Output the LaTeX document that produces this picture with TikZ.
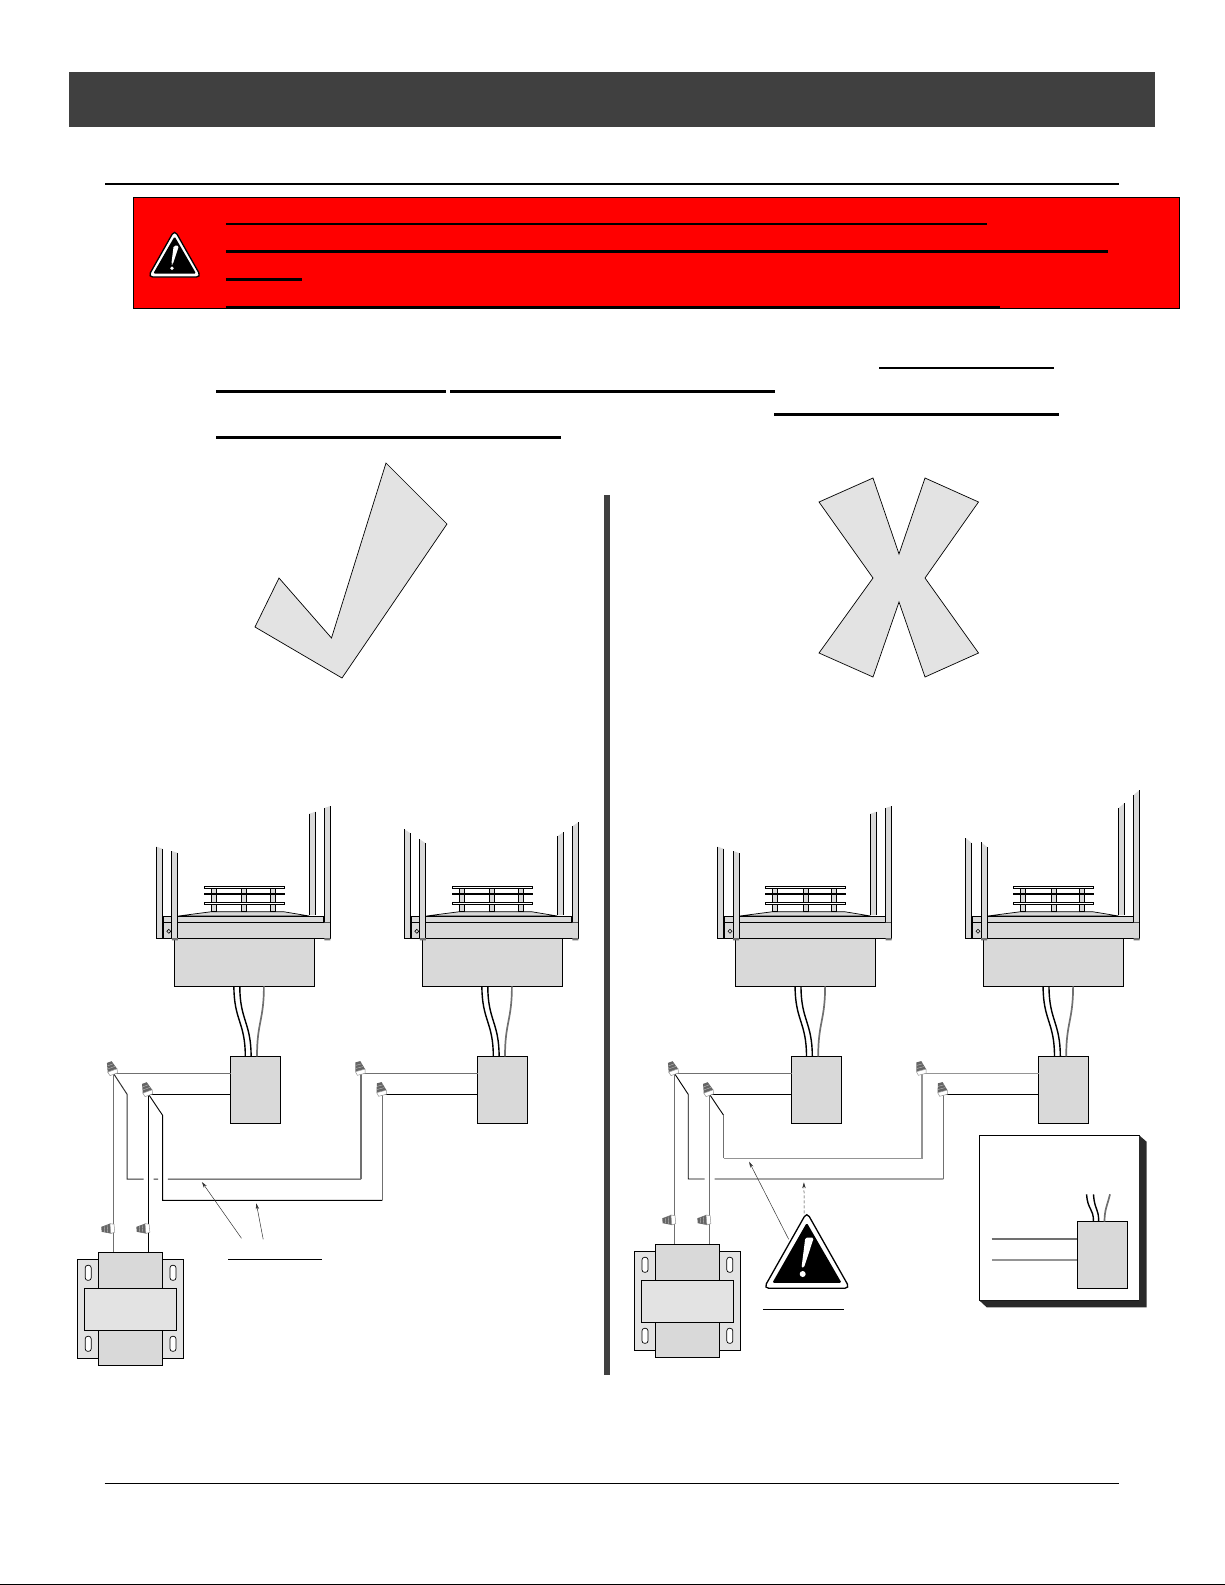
\documentclass[tikz,border=0pt]{standalone}
\usetikzlibrary{arrows.meta}
\definecolor{bargray}{HTML}{404040}
\definecolor{stovegray}{HTML}{D9D9D9}
\definecolor{marklight}{HTML}{E3E3E3}
\definecolor{wiregray}{HTML}{707070}
\definecolor{wirepale}{HTML}{949494}
\definecolor{wiredark}{HTML}{333333}
\tikzset{
    ruleline/.style={line width=3pt},
    thinrule/.style={line width=2pt},
    bigmark/.style={draw,fill=marklight,line width=0.7pt},
    part/.style={draw,fill=stovegray,line width=1pt},
    platepart/.style={draw,fill=marklight,line width=1pt},
    block/.style={part,inner sep=0pt,outer sep=0pt,anchor=north west},
    wireblk/.style={line width=0.9pt,black},
    wiregr/.style={line width=1.2pt,wiregray},
    wirepl/.style={line width=1.2pt,wirepale},
    wiredk/.style={line width=1pt,wiredark},
    leader/.style={line width=0.5pt,wiredark,-{Stealth[length=6pt,width=3.4pt]}},
    pics/wirenut/.style={code={
        \fill[wiregray!90!black] (-5,-3) -- (5,-3) -- (2.5,-12) -- (-2.5,-12) -- cycle;
        \draw[wirepale!60!white,line width=0.4pt] (-3.8,-6) -- (3.8,-6) (-3,-9) -- (3,-9);
        \draw[wirepale,fill=white,line width=0.5pt] (-5,-3) -- (5,-3) -- (4,1) -- (-4,1) -- cycle;
    }},
    pics/warnsign/.style={code={
        \draw[fill=white,line width=1.3pt,rounded corners=5pt] (0,-75.5) -- (-43,0.6) -- (43,0.6) -- cycle;
        \fill[black,rounded corners=1.5pt] (0,-65) -- (-34.5,-4.8) -- (34.8,-4.8) -- cycle;
        \fill[white,rounded corners=1.5pt] (-1.5,-50) -- (7,-50) -- (-2.9,-20) -- (-5.3,-20) -- cycle;
        \fill[white] (-4.1,-13.7) circle (3);
    }}
}
\newcommand{\stovehead}[8]{
    \begin{scope}[shift={(#2,0)}]
        \fill[stovegray] (153,#5) -- (159,#5-#7) -- (159,915) -- (153,915) -- cycle;
        \draw[line width=1pt] (153,#5) -- (153,915) (159,#5-#7) -- (159,915);
        \draw[part,line width=0.7pt] (22,916) -- (55,911.7) -- (127,911.7) -- (153,916) -- cycle;
        \foreach \legx in {54.8,85.4,114}
            \draw[part] (\legx,888) rectangle (\legx+5,911.7);
        \draw[fill=white,line width=1pt] (47.6,886.7) rectangle (128.1,888.9);
        \draw[line width=1.5pt] (47.6,894) -- (128.1,894);
        \draw[fill=white,line width=1pt] (47.6,902.3) rectangle (128.1,904.7);
        \node[block,minimum width=174pt,minimum height=16pt] (#1base) at (0,922.3) {};
        \draw[part] (6.9,916) rectangle (167.4,922.3);
        \draw[line width=1.6pt] (6.4,916) -- (6.4,938.3);
        \fill[stovegray] (0,#3) -- (6.2,#3+#7) -- (6.2,938.3) -- (0,938.3) -- cycle;
        \draw[line width=1pt] (0,#3) -- (0,938.3) -- (6.2,938.3) -- (6.2,#3+#7);
        \fill[stovegray] (15.4,#4) -- (21.4,#4+#7) -- (21.4,938.3) -- (15.4,938.3) -- cycle;
        \draw[line width=1pt] (15.4,#4) -- (15.4,938.3) (21.4,#4+#7) -- (21.4,938.3);
        \fill[stovegray] (168,#6) -- (174,#6-#7) -- (174,922.3) -- (168,922.3) -- cycle;
        \draw[line width=1pt] (168,#6) -- (168,922.3) (174,#6-#7) -- (174,938);
        \draw[line width=0.6pt] (12.4,929.3) -- (14.4,931.3) -- (12.4,933.3) -- (10.4,931.3) -- cycle;
        \node[block,minimum width=140pt,minimum height=48pt] (#1box) at (17.9,938.3) {};
        \fill[wiregray] (15.4,938) rectangle (21.4,940.3) (168,938) rectangle (174,940.3);
        \node[block,minimum width=49.5pt,minimum height=67pt] (#1jb) at (#8,1056.3) {};
        \coordinate (#1ua) at (77.5,986.3);
        \coordinate (#1ub) at (83.4,986.3);
        \coordinate (#1uc) at (107.5,986.3);
        \coordinate (#1da) at (88.9,1056.3);
        \coordinate (#1db) at (94.7,1056.3);
        \coordinate (#1dc) at (100.6,1056.3);
        \draw[wireblk,line width=1.4pt] (#1ua) .. controls +(0,34) and +(0,-34) .. (#1da);
        \draw[wireblk,line width=1.4pt] (#1ub) .. controls +(0,34) and +(0,-34) .. (#1db);
        \draw[wiregr,line width=1.7pt] (#1uc) .. controls +(0,34) and +(0,-34) .. (#1dc);
    \end{scope}
}
\newcommand{\coiltrans}[3]{
    \begin{scope}[shift={(#2,#3)}]
        \node[block,platepart,minimum width=106.5pt,minimum height=99pt] (#1plate) at (0,0) {};
        \node[block,minimum width=64pt,minimum height=113pt] (#1core) at (21,-7) {};
        \node[block,platepart,minimum width=92pt,minimum height=42pt] (#1mid) at (7.2,29) {};
        \draw[line width=0.7pt,fill=white,rounded corners=2.5pt] (8,6) rectangle (14,21) (92.8,6) rectangle (98.8,21);
        \draw[line width=0.7pt,fill=white,rounded corners=2.5pt] (8,77) rectangle (14,92) (92.8,77) rectangle (98.8,92);
    \end{scope}
}
\begin{document}
\begin{tikzpicture}[x=1pt,y=-1pt]
    \useasboundingbox (0,0) rectangle (1225,1585);
    \fill[bargray] (69,72) rectangle (1155,127);
    \draw[thinrule] (105,183.9) -- (1119,183.9);
    \draw[fill=red,line width=1pt] (133.5,197.3) rectangle (1179.5,308);
    \draw[thinrule] (225.8,224) -- (987,224);
    \draw[ruleline] (225.8,251.5) -- (1108,251.5);
    \draw[ruleline] (225.8,279.5) -- (302,279.5);
    \draw[thinrule] (225.8,307) -- (1000,307);
    \pic[scale=0.62] at (174.6,276.7) {warnsign};
    \draw[thinrule] (879,368) -- (1053.5,368);
    \draw[ruleline] (216.4,391.5) -- (445.5,391.5);
    \draw[ruleline] (450,391.5) -- (775,391.5);
    \draw[ruleline] (774,414.5) -- (1059,414.5);
    \draw[ruleline] (216.4,437.5) -- (561,437.5);
    \draw[bigmark] (386,463) -- (447,524) -- (342,678) -- (255,627) -- (279,578) -- (331.5,638) -- cycle;
    \draw[bigmark] (819,502) -- (873,478) -- (899,554) -- (925,478) -- (978.5,502) -- (925,578) -- (978.5,653)
        -- (925,677) -- (899,602) -- (873,677) -- (819,653) -- (873,578) -- cycle;
    \fill[bargray] (603.5,494.5) rectangle (610,1375);

    \stovehead{sa}{156.4}{846.7}{851}{813.7}{808}{2}{74.5}
    \stovehead{sb}{404.4}{829.3}{839.3}{836.3}{826.3}{4}{73.2}
    \stovehead{sc}{717.6}{846.7}{851}{813.7}{808}{2}{74.2}
    \stovehead{sd}{965.6}{838}{842}{808}{795}{5}{73}

    \coiltrans{ta}{77.2}{1259.3}
    \coiltrans{tb}{634}{1251.3}

    \coordinate (na) at (113.4,1073.3);
    \coordinate (nb) at (148.5,1094.3);
    \coordinate (nc) at (361,1073.3);
    \coordinate (nd) at (382.3,1094.3);
    \coordinate (pa) at (113.4,1228.3);
    \coordinate (pb) at (148.5,1228.3);
    \coordinate (ba) at (127.1,1094.3);
    \coordinate (ca) at (127.1,1179);
    \coordinate (bb) at (162.6,1115.3);
    \coordinate (cb) at (162.6,1200.3);
    \draw[wiregr] (na) -- (na -| sajb.west);
    \draw[wireblk] (nb) -- (nb -| sajb.west);
    \draw[wiregr] (nc) -- (nc -| sbjb.west);
    \draw[wireblk] (nd) -- (nd -| sbjb.west);
    \draw[wiregr] (na) -- (na |- tacore.north);
    \draw[wireblk] (nb) -- (nb |- tacore.north);
    \draw[wiredk] (na) -- (ba) -- (ca) -- (143.7,1179) (153.7,1179) -- (158,1179) (167.8,1179) -- (nc |- ca);
    \draw[wiregr] (nc |- ca) -- (nc);
    \draw[wireblk] (nb) -- (bb) -- (cb) -- (nd |- cb);
    \draw[wiregr] (nd |- cb) -- (nd);
    \pic[rotate=20] at (na) {wirenut};
    \pic[rotate=20] at (nb) {wirenut};
    \pic[rotate=15] at (nc) {wirenut};
    \pic[rotate=15] at (nd) {wirenut};
    \pic[rotate=95] at (pa) {wirenut};
    \pic[rotate=95] at (pb) {wirenut};
    \coordinate (la) at (241.5,1238.3);
    \coordinate (lb) at (263.2,1239.3);
    \coordinate (ha) at (201.9,1182);
    \coordinate (hb) at (256.3,1203.3);
    \draw[leader] (la) -- (ha);
    \draw[leader] (lb) -- (hb);
    \draw[line width=1pt] (228,1259.3) -- (322,1259.3);

    \coordinate (ne) at (674.4,1073.3);
    \coordinate (nf) at (709.5,1094.3);
    \coordinate (ng) at (922,1073.3);
    \coordinate (nh) at (943.3,1094.3);
    \coordinate (pe) at (674.4,1219.7);
    \coordinate (pf) at (709.5,1219.7);
    \coordinate (be) at (688.2,1094.3);
    \coordinate (ce) at (688.2,1179);
    \coordinate (bf) at (723.6,1115.3);
    \coordinate (cf) at (723.6,1158.3);
    \draw[wiregr] (ne) -- (ne -| scjb.west);
    \draw[wireblk] (nf) -- (nf -| scjb.west);
    \draw[wirepl] (ng) -- (ng -| sdjb.west);
    \draw[wireblk] (nh) -- (nh -| sdjb.west);
    \draw[wiregr] (ne) -- (ne |- tbcore.north);
    \draw[wiregr] (nf) -- (nf |- tbcore.north);
    \draw[wireblk] (ne) -- (be) -- (ce) -- (704.7,1179) (714.7,1179) -- (nh |- ce);
    \draw[wiregr] (nh |- ce) -- (nh);
    \draw[wireblk] (nf) -- (bf);
    \draw[wiregr] (bf) -- (cf);
    \draw[wirepl] (cf) -- (ng |- cf) -- (ng);
    \pic[rotate=20] at (ne) {wirenut};
    \pic[rotate=20] at (nf) {wirenut};
    \pic[rotate=15] at (ng) {wirenut};
    \pic[rotate=15] at (nh) {wirenut};
    \pic[rotate=95] at (pe) {wirenut};
    \pic[rotate=95] at (pf) {wirenut};
    \coordinate (le) at (788.7,1239.3);
    \coordinate (lf) at (804.2,1213.3);
    \coordinate (he) at (749.1,1161.7);
    \coordinate (hf) at (803.9,1182.3);
    \draw[leader] (le) -- (he);
    \draw[leader,densely dashed] (lf) -- (hf);
    \pic at (806.8,1287.7) {warnsign};
    \draw[line width=1pt] (762.9,1309) -- (843.8,1309);

    \node[block,fill=white,minimum width=160pt,minimum height=165pt] (inset) at (979.2,1135.3) {};
    \fill[wiredark!80!black] (inset.north east) -- ++(7.5,6.5) -- ++(0,165.5) -- ++(-160,0) -- (inset.south west) -- (inset.south east) -- cycle;
    \node[block,minimum width=50pt,minimum height=67pt] (insetjb) at (1077.3,1221.7) {};
    \coordinate (ia) at (1086.6,1194.3);
    \coordinate (ib) at (1093.5,1194.3);
    \coordinate (ic) at (1110,1194.3);
    \coordinate (id) at (991.6,1239);
    \coordinate (ie) at (992.2,1260);
    \coordinate (ja) at (1093.5,1221.7);
    \coordinate (jb) at (1098.7,1221.7);
    \coordinate (jc) at (1104.5,1221.7);
    \draw[wireblk,line width=1.4pt] (ia) .. controls +(1,16) and +(0,-14) .. (ja);
    \draw[wireblk,line width=1.4pt] (ib) .. controls +(1,16) and +(0,-14) .. (jb);
    \draw[wiregr,line width=1.7pt] (ic) .. controls +(-3,12) and +(0,-12) .. (jc);
    \draw[wiregr,line width=1.4pt] (id) -- (id -| insetjb.west);
    \draw[wirepl,line width=1.4pt] (ie) -- (ie -| insetjb.west);

    \draw[line width=1.5pt] (104.7,1483.3) -- (1118.8,1483.3);
    \draw[line width=1.2pt] (0,1584.3) -- (1225,1584.3);
\end{tikzpicture}
\end{document}
